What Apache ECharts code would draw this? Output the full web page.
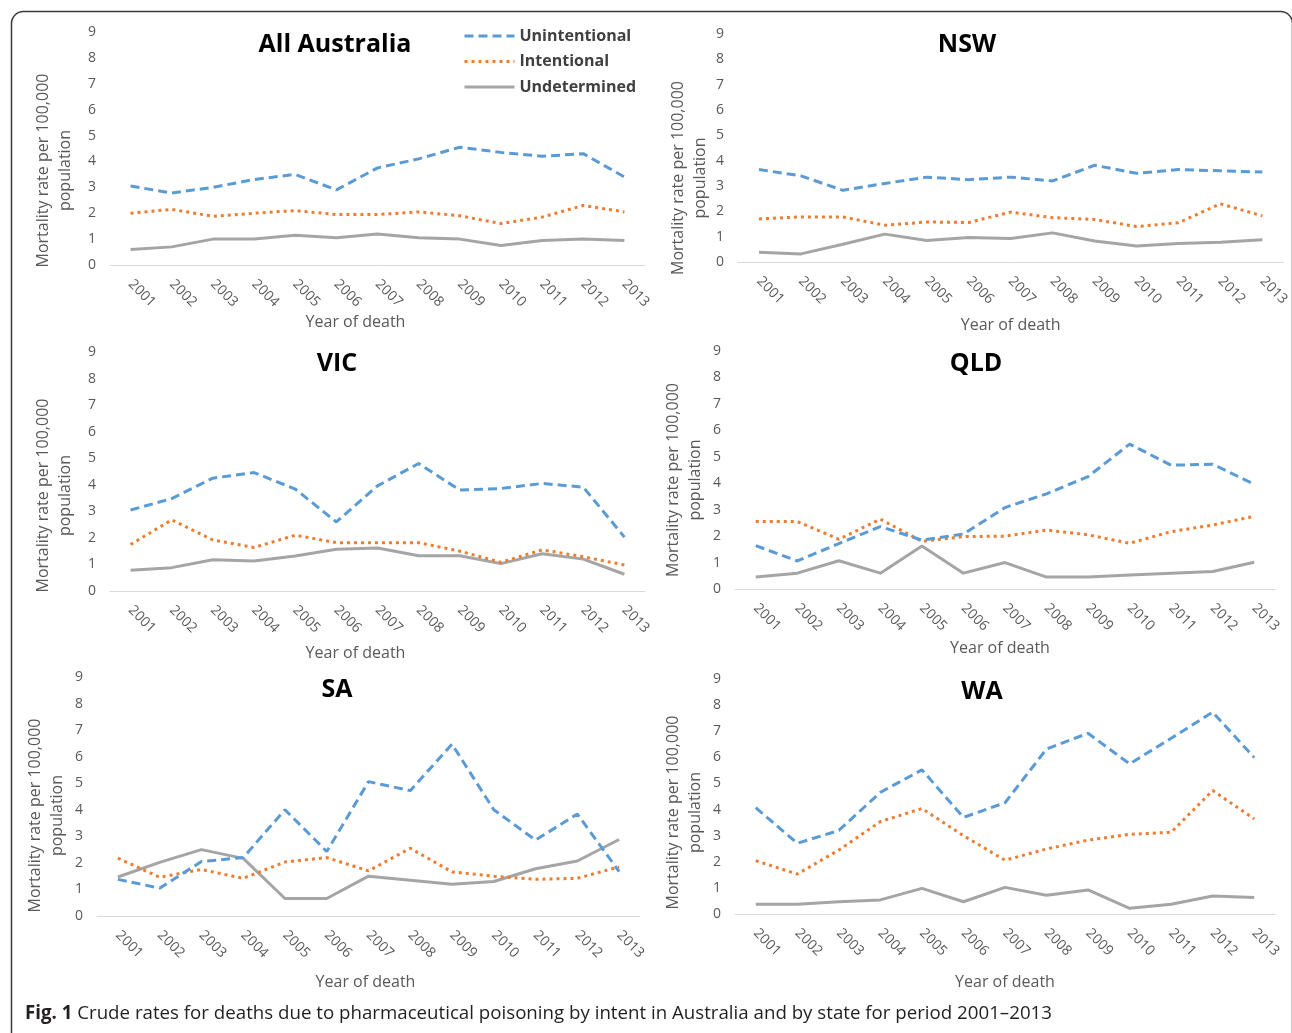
<!DOCTYPE html>
<html><head><meta charset="utf-8">
<script src="https://cdn.jsdelivr.net/npm/echarts@6/dist/echarts.min.js"></script>
<style>html,body{margin:0;padding:0;background:#fff}#c{width:1292px;height:1033px}</style>
</head><body><div id="c"></div>
<script>
// ---- data ----
const years = ['2001','2002','2003','2004','2005','2006','2007','2008','2009','2010','2011','2012','2013'];
const panelTitles = ['All Australia','NSW','VIC','QLD','SA','WA'];
const seriesNames = ['Unintentional','Intentional','Undetermined'];
const xAxisTitle = 'Year of death';
const yAxisTitle = 'Mortality rate per 100,000\npopulation';
const captionBold = 'Fig. 1';
const captionText = ' Crude rates for deaths due to pharmaceutical poisoning by intent in Australia and by state for period 2001–2013';

const aus_unintentional = [3.05,2.78,3.0,3.3,3.5,2.9,3.75,4.1,4.55,4.35,4.2,4.3,3.4];
const aus_intentional   = [2.0,2.15,1.88,2.0,2.1,1.95,1.95,2.05,1.9,1.6,1.85,2.3,2.05];
const aus_undetermined  = [0.6,0.7,1.0,1.0,1.15,1.05,1.2,1.05,1.0,0.75,0.95,1.0,0.95];

const nsw_unintentional = [3.65,3.4,2.83,3.1,3.35,3.25,3.35,3.2,3.82,3.5,3.65,3.6,3.55];
const nsw_intentional   = [1.7,1.78,1.78,1.45,1.58,1.56,1.97,1.75,1.68,1.4,1.55,2.3,1.82];
const nsw_undetermined  = [0.38,0.32,0.7,1.1,0.85,0.97,0.93,1.15,0.83,0.63,0.73,0.78,0.88];

const vic_unintentional = [3.05,3.48,4.25,4.46,3.84,2.6,3.96,4.8,3.8,3.86,4.05,3.91,2.03];
const vic_intentional   = [1.75,2.68,1.92,1.64,2.1,1.82,1.82,1.82,1.5,1.08,1.55,1.29,0.98];
const vic_undetermined  = [0.78,0.88,1.18,1.13,1.32,1.57,1.62,1.33,1.33,1.03,1.4,1.2,0.63];

const qld_unintentional = [1.64,1.06,1.72,2.36,1.85,2.08,3.08,3.6,4.25,5.48,4.68,4.72,3.96];
const qld_intentional   = [2.55,2.55,1.88,2.64,1.8,1.98,2.0,2.23,2.05,1.73,2.17,2.42,2.75];
const qld_undetermined  = [0.45,0.6,1.07,0.6,1.63,0.6,1.0,0.45,0.45,0.53,0.6,0.66,1.01];

const sa_unintentional  = [1.38,1.05,2.05,2.2,4.0,2.43,5.06,4.72,6.47,4.0,2.86,3.84,1.67];
const sa_intentional    = [2.18,1.46,1.75,1.42,2.03,2.2,1.7,2.55,1.66,1.5,1.38,1.42,1.85];
const sa_undetermined   = [1.47,2.02,2.5,2.17,0.66,0.66,1.5,1.35,1.2,1.3,1.78,2.07,2.88];

const wa_unintentional  = [4.07,2.71,3.2,4.66,5.52,3.7,4.26,6.32,6.92,5.75,6.73,7.73,5.99];
const wa_intentional    = [2.04,1.53,2.45,3.54,4.04,3.0,2.06,2.49,2.83,3.05,3.13,4.73,3.64];
const wa_undetermined   = [0.37,0.37,0.47,0.54,0.98,0.47,1.02,0.72,0.92,0.22,0.37,0.69,0.63];

const panelData = [
  [aus_unintentional, aus_intentional, aus_undetermined],
  [nsw_unintentional, nsw_intentional, nsw_undetermined],
  [vic_unintentional, vic_intentional, vic_undetermined],
  [qld_unintentional, qld_intentional, qld_undetermined],
  [sa_unintentional, sa_intentional, sa_undetermined],
  [wa_unintentional, wa_intentional, wa_undetermined]
];

// ---- layout / style ----
const FONT = '"Open Sans", "Noto Sans", sans-serif';
const layout = [
  {l:110, t:32,  w:535, h:233, tx:335, ty:43,  xGap:49, xShift:-22, yGap:34, yShift:22},
  {l:738, t:34,  w:547, h:228, tx:967, ty:43,  xGap:55, xShift:0,   yGap:27, yShift:30},
  {l:110, t:352, w:535, h:239, tx:337, ty:362, xGap:54, xShift:-22, yGap:34, yShift:24},
  {l:735, t:351, w:540, h:238, tx:976, ty:362, xGap:51, xShift:-5,  yGap:29, yShift:10},
  {l:97,  t:677, w:543, h:239, tx:337, ty:688, xGap:58, xShift:-3,  yGap:29, yShift:19},
  {l:735, t:679, w:540, h:235, tx:982, ty:690, xGap:60, xShift:0,   yGap:29, yShift:16}
];
const colors = ['#5B9BD5', '#ED7D31', '#A5A5A5'];
const lineStyles = [
  {color:colors[0], width:3, type:[9,5]},
  {color:colors[1], width:3, type:[3,4]},
  {color:colors[2], width:3, type:'solid'}
];

const grid = [], xAxis = [], yAxis = [], title = [], series = [];
layout.forEach((L, i) => {
  grid.push({left:L.l, top:L.t, width:L.w, height:L.h});
  const xp = L.xShift < 0 ? [0, -2*L.xShift, 0, 0] : [0, 0, 0, 2*L.xShift];
  xAxis.push({
    gridIndex:i, type:'category', data:years, boundaryGap:true,
    axisLine:{lineStyle:{color:'#D9D9D9', width:1}},
    axisTick:{show:false},
    axisLabel:{rotate:-45, color:'#595959', fontSize:14, fontFamily:FONT, margin:17, interval:0},
    name:xAxisTitle, nameLocation:'middle', nameGap:L.xGap,
    nameTextStyle:{color:'#595959', fontSize:16, fontFamily:FONT, padding:xp}
  });
  yAxis.push({
    gridIndex:i, type:'value', min:0, max:9, interval:1,
    splitLine:{show:false}, axisLine:{show:false}, axisTick:{show:false},
    axisLabel:{color:'#595959', fontSize:14, fontFamily:FONT, margin:14},
    name:yAxisTitle, nameLocation:'middle', nameGap:L.yGap,
    nameTextStyle:{color:'#595959', fontSize:16, fontFamily:FONT, lineHeight:22, padding:[0, 2*L.yShift, 0, 0]}
  });
  title.push({
    text:panelTitles[i], left:L.tx, top:L.ty - 11, textAlign:'center', padding:0,
    textStyle:{fontSize:25, fontWeight:'bold', color:'#000', fontFamily:FONT}
  });
  panelData[i].forEach((vals, k) => {
    series.push({
      name:seriesNames[k], type:'line', xAxisIndex:i, yAxisIndex:i,
      data:vals, symbol:'none', showSymbol:false, color:colors[k],
      itemStyle:{color:colors[k]}, lineStyle:lineStyles[k], z:3-k
    });
  });
});

const chart = echarts.init(document.getElementById('c'));
chart.setOption({
  animation:false,
  backgroundColor:'#fff',
  color:colors,
  title, grid, xAxis, yAxis, series,
  legend:{
    data:seriesNames.map(n => ({name:n, itemStyle:{opacity:0}})),
    orient:'vertical', left:463, top:28, padding:0,
    itemWidth:50, itemHeight:14, itemGap:9.5,
    itemStyle:{opacity:0},
    lineStyle:{width:3},
    textStyle:{fontSize:16, fontWeight:'bold', color:'#404040', fontFamily:FONT}
  },
  graphic:[
    {type:'rect', left:9, top:9, shape:{width:1281, height:1040, r:12}, silent:true,
     style:{fill:'none', stroke:'#3a3a3a', lineWidth:1.5}},
    {type:'text', left:25, top:1004, silent:true,
     style:{text:'{b|' + captionBold + '}' + captionText, fill:'#231f20', font:'18.7px ' + FONT,
       rich:{b:{fontWeight:'bold', fontSize:18.7, fontFamily:FONT, fill:'#231f20'}}}}
  ]
});
</script></body></html>
